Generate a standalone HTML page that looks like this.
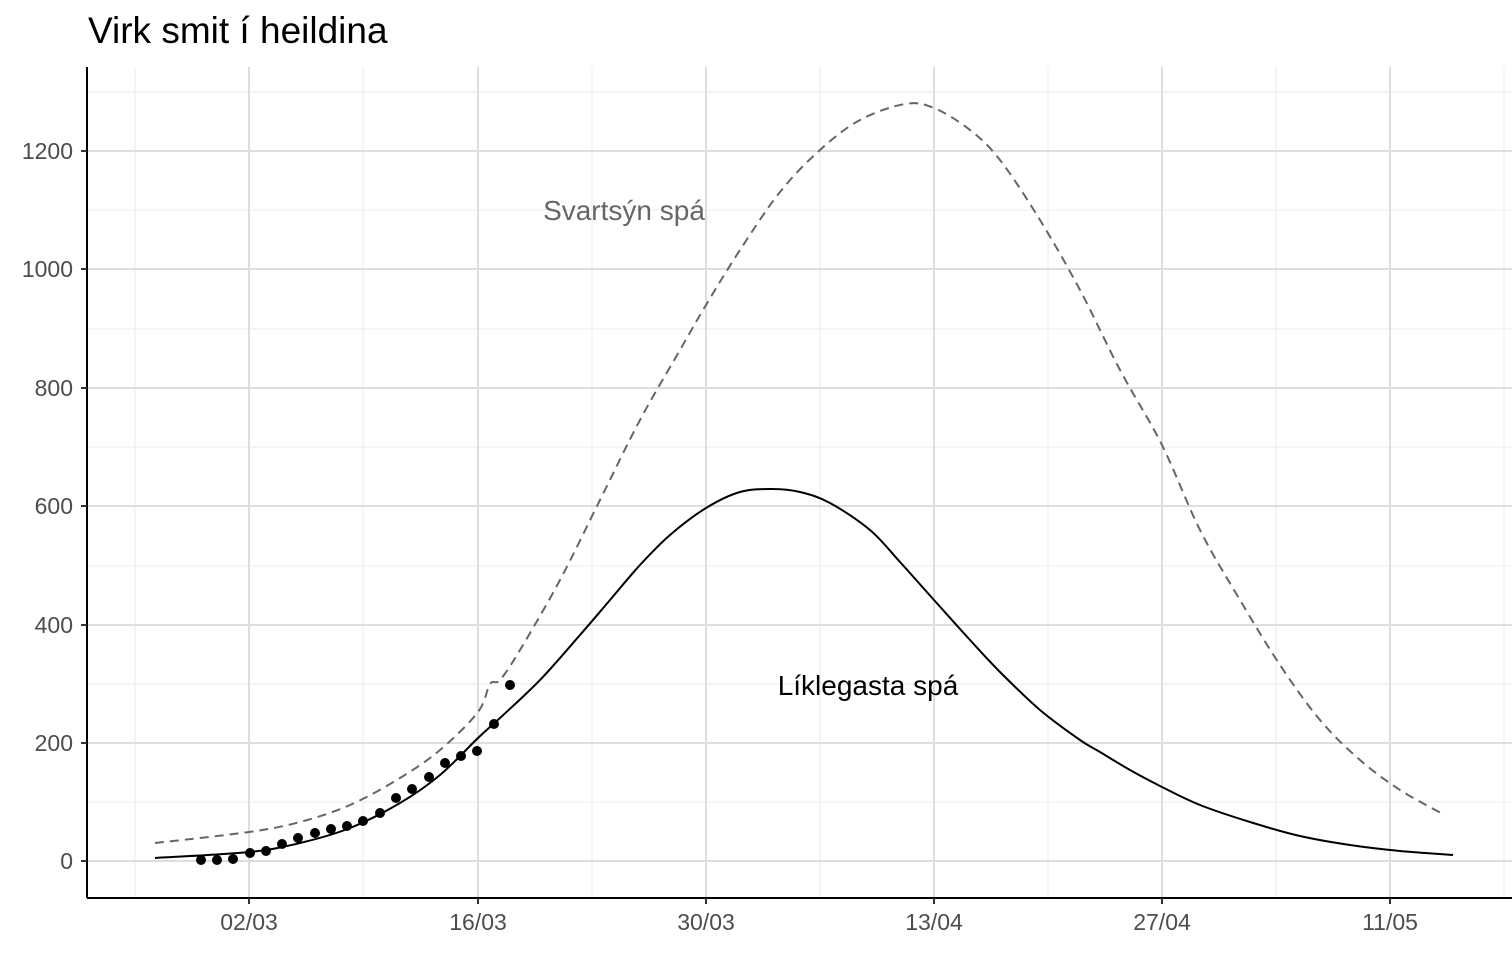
<!DOCTYPE html>
<html><head><meta charset="utf-8"><style>body{margin:0;background:#fff}svg{display:block}text{font-family:"Liberation Sans",sans-serif}</style></head><body>
<svg width="1512" height="953" viewBox="0 0 1512 953">
<g stroke="#ebebeb" stroke-width="1">
<line x1="88" x2="1512" y1="802" y2="802"/><line x1="88" x2="1512" y1="684" y2="684"/><line x1="88" x2="1512" y1="566" y2="566"/><line x1="88" x2="1512" y1="447" y2="447"/><line x1="88" x2="1512" y1="329" y2="329"/><line x1="88" x2="1512" y1="210" y2="210"/><line x1="88" x2="1512" y1="92" y2="92"/>
<line y1="67" y2="898" x1="135" x2="135"/><line y1="67" y2="898" x1="363" x2="363"/><line y1="67" y2="898" x1="592" x2="592"/><line y1="67" y2="898" x1="820" x2="820"/><line y1="67" y2="898" x1="1048" x2="1048"/><line y1="67" y2="898" x1="1276" x2="1276"/><line y1="67" y2="898" x1="1504" x2="1504"/>
</g>
<g stroke="#dedede" stroke-width="2">
<line x1="88" x2="1512" y1="861" y2="861"/><line x1="88" x2="1512" y1="743" y2="743"/><line x1="88" x2="1512" y1="625" y2="625"/><line x1="88" x2="1512" y1="506" y2="506"/><line x1="88" x2="1512" y1="388" y2="388"/><line x1="88" x2="1512" y1="269" y2="269"/><line x1="88" x2="1512" y1="151" y2="151"/>
<line y1="67" y2="898" x1="249" x2="249"/><line y1="67" y2="898" x1="478" x2="478"/><line y1="67" y2="898" x1="706" x2="706"/><line y1="67" y2="898" x1="934" x2="934"/><line y1="67" y2="898" x1="1162" x2="1162"/><line y1="67" y2="898" x1="1390" x2="1390"/>
</g>
<g stroke="#000" stroke-width="2">
<line x1="87" x2="87" y1="67" y2="898"/><line x1="87" x2="1512" y1="898" y2="898"/>
</g>
<g stroke="#333" stroke-width="2">
<line x1="81" x2="87" y1="861" y2="861"/><line x1="81" x2="87" y1="743" y2="743"/><line x1="81" x2="87" y1="625" y2="625"/><line x1="81" x2="87" y1="506" y2="506"/><line x1="81" x2="87" y1="388" y2="388"/><line x1="81" x2="87" y1="269" y2="269"/><line x1="81" x2="87" y1="151" y2="151"/>
<line y1="898" y2="904" x1="249" x2="249"/><line y1="898" y2="904" x1="478" x2="478"/><line y1="898" y2="904" x1="706" x2="706"/><line y1="898" y2="904" x1="934" x2="934"/><line y1="898" y2="904" x1="1162" x2="1162"/><line y1="898" y2="904" x1="1390" x2="1390"/>
</g>
<g fill="#4d4d4d" font-size="23" text-anchor="end">
<text x="73" y="869">0</text><text x="73" y="751">200</text><text x="73" y="633">400</text><text x="73" y="514">600</text><text x="73" y="396">800</text><text x="73" y="277">1000</text><text x="73" y="159">1200</text>
</g>
<g fill="#4d4d4d" font-size="23" text-anchor="middle">
<text x="249" y="930">02/03</text><text x="478" y="930">16/03</text><text x="706" y="930">30/03</text><text x="934" y="930">13/04</text><text x="1162" y="930">27/04</text><text x="1390" y="930">11/05</text>
</g>
<text x="88" y="43" font-size="37" fill="#000">Virk smit í heildina</text>
<path id="d" fill="none" stroke="#666" stroke-width="2" stroke-dasharray="9,6" data-p="155,843 249,832 300,822 350,805 400,778 440,750 478,712 490,684 500,680 520,650 560,580 600,500 640,420 680,350 706,305 740,250 780,192 820,150 860,120 905,104 934,108 970,130 1000,160 1040,220 1080,290 1120,370 1162,445 1200,530 1240,600 1280,665 1320,720 1360,760 1400,790 1441,813"/>
<path id="s" fill="none" stroke="#000" stroke-width="2" data-p="155,858 249,852 300,843 350,828 400,803 440,775 478,738 500,718 540,680 580,635 610,600 640,565 670,535 706,508 740,492 772,489 800,492 830,503 870,530 900,562 934,600 970,640 1000,672 1040,710 1080,740 1100,752 1130,770 1162,787 1200,805 1250,822 1300,836 1350,845 1400,851 1453,855"/>
<g fill="#000">
<circle cx="201" cy="860" r="5"/><circle cx="217" cy="860" r="5"/><circle cx="233" cy="859" r="5"/><circle cx="250" cy="853" r="5"/><circle cx="266" cy="851" r="5"/><circle cx="282" cy="844" r="5"/><circle cx="298" cy="838" r="5"/><circle cx="315" cy="833" r="5"/><circle cx="331" cy="829" r="5"/><circle cx="347" cy="826" r="5"/><circle cx="363" cy="821" r="5"/><circle cx="380" cy="813" r="5"/><circle cx="396" cy="798" r="5"/><circle cx="412" cy="789" r="5"/><circle cx="429" cy="777" r="5"/><circle cx="445" cy="763" r="5"/><circle cx="461" cy="756" r="5"/><circle cx="477" cy="751" r="5"/><circle cx="494" cy="724" r="5"/><circle cx="510" cy="685" r="5"/>
</g>
<text x="624" y="220" font-size="28" fill="#666" text-anchor="middle">Svartsýn spá</text>
<text x="868" y="695" font-size="28" fill="#000" text-anchor="middle">Líklegasta spá</text>
</svg>
<script>
['d','s'].forEach(function(id){var el=document.getElementById(id);var p=el.getAttribute('data-p').trim().split(/\s+/).map(function(s){return s.split(',').map(Number)});
var d='M'+p[0][0]+','+p[0][1];for(var i=0;i<p.length-1;i++){var p0=p[i-1]||p[i],p1=p[i],p2=p[i+1],p3=p[i+2]||p2;
d+=' C'+(p1[0]+(p2[0]-p0[0])/6)+','+(p1[1]+(p2[1]-p0[1])/6)+' '+(p2[0]-(p3[0]-p1[0])/6)+','+(p2[1]-(p3[1]-p1[1])/6)+' '+p2[0]+','+p2[1];}
el.setAttribute('d',d);});
</script>
</body></html>
